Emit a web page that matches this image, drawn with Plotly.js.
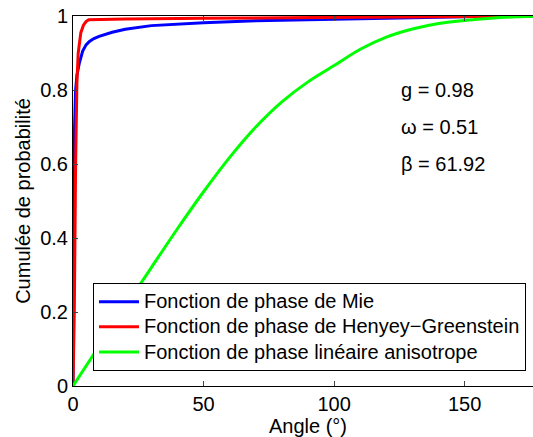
<!DOCTYPE html>
<html><head><meta charset="utf-8">
<script src="https://cdn.plot.ly/plotly-3.0.1.min.js"></script>
<style>html,body{margin:0;padding:0;overflow:hidden;background:#fff}#g{width:560px;height:437px}</style>
</head><body><div id="g"></div>
<script>
// Angle (degrees) and cumulative probability
var mieX = [0, 0.3, 0.6, 1.0, 1.5, 2.4, 3.7, 5, 6.3, 8, 10, 15, 20, 30, 40, 50, 70, 100, 130, 160, 180];
var mieY = [0, 0.4, 0.7, 0.8, 0.84, 0.872, 0.905, 0.922, 0.931, 0.939, 0.945, 0.956, 0.964, 0.974, 0.979, 0.982, 0.987, 0.991, 0.996, 0.999, 1.0];
var hgX = [0, 0.5, 1.0, 1.5, 2.0, 3.0, 4.0, 5.0, 6.0, 20, 50, 100, 150, 180];
var hgY = [0, 0.2, 0.6, 0.82, 0.9, 0.955, 0.975, 0.985, 0.99, 0.992, 0.994, 0.997, 0.999, 1.0];
var linX = [0, 10, 20, 30, 40, 50, 60, 70, 80, 90, 100, 110, 120, 130, 140, 150, 160, 170, 180];
var linY = [0, 0.108, 0.215, 0.32, 0.425, 0.525, 0.618, 0.70, 0.768, 0.822, 0.866, 0.91, 0.943, 0.965, 0.98, 0.988, 0.994, 0.998, 1.0];
var names = ["Fonction de phase de Mie", "Fonction de phase de Henyey\u2212Greenstein", "Fonction de phase lin\u00e9aire anisotrope"];
var colors = ["#0000ff", "#ff0000", "#00ff00"];
var shapes = ["linear", "linear", "spline"];
var params = ["g = 0.98", "\u03c9 = 0.51", "\u03b2 = 61.92"];
var paramY = [0.8, 0.7, 0.6];
var xTicks = [0, 50, 100, 150];
var yTicks = [0, 0.2, 0.4, 0.6, 0.8, 1];

var F = "Liberation Sans, Arial, Helvetica, sans-serif";
var FS = 20;
var xs = [mieX, hgX, linX], ys = [mieY, hgY, linY];
var data = xs.map(function (x, i) {
  return {x: x, y: ys[i], type: "scatter", mode: "lines",
    name: '<span style="font-size:' + FS + 'px">' + names[i] + '</span>',
    line: {color: colors[i], width: 3, shape: shapes[i], smoothing: 0.8}};
});
var ann = params.map(function (t, i) {
  return {x: 125, y: paramY[i], xref: "x", yref: "y", text: t, showarrow: false,
    xanchor: "left", yanchor: "middle", font: {family: F, size: FS, color: "#000"}};
});
var layout = {
  width: 560, height: 437,
  margin: {l: 73, r: 17, t: 16, b: 51},
  paper_bgcolor: "#fff", plot_bgcolor: "#fff",
  font: {family: F, size: FS, color: "#000"},
  showlegend: true,
  legend: {x: 0.0426, y: 0.278, xanchor: "left", yanchor: "top",
    bgcolor: "#fff", bordercolor: "#000", borderwidth: 1,
    font: {family: F, size: 17, color: "#000"}, itemwidth: 40, tracegroupgap: 0},
  xaxis: {range: [0, 180], tickvals: xTicks, ticks: "inside", ticklen: 5,
    showline: true, linecolor: "#000", linewidth: 1, mirror: "ticks",
    showgrid: false, zeroline: false, tickfont: {size: FS},
    title: {text: "Angle (\u00b0)", font: {size: FS}, standoff: 4}},
  yaxis: {range: [0, 1], tickvals: yTicks, ticks: "inside", ticklen: 5,
    showline: true, linecolor: "#000", linewidth: 1, mirror: "ticks",
    showgrid: false, zeroline: false, tickfont: {size: FS},
    title: {text: "Cumul\u00e9e de probabilit\u00e9", font: {size: FS}, standoff: 4}},
  annotations: ann
};
Plotly.newPlot("g", data, layout, {staticPlot: true});
</script></body></html>
